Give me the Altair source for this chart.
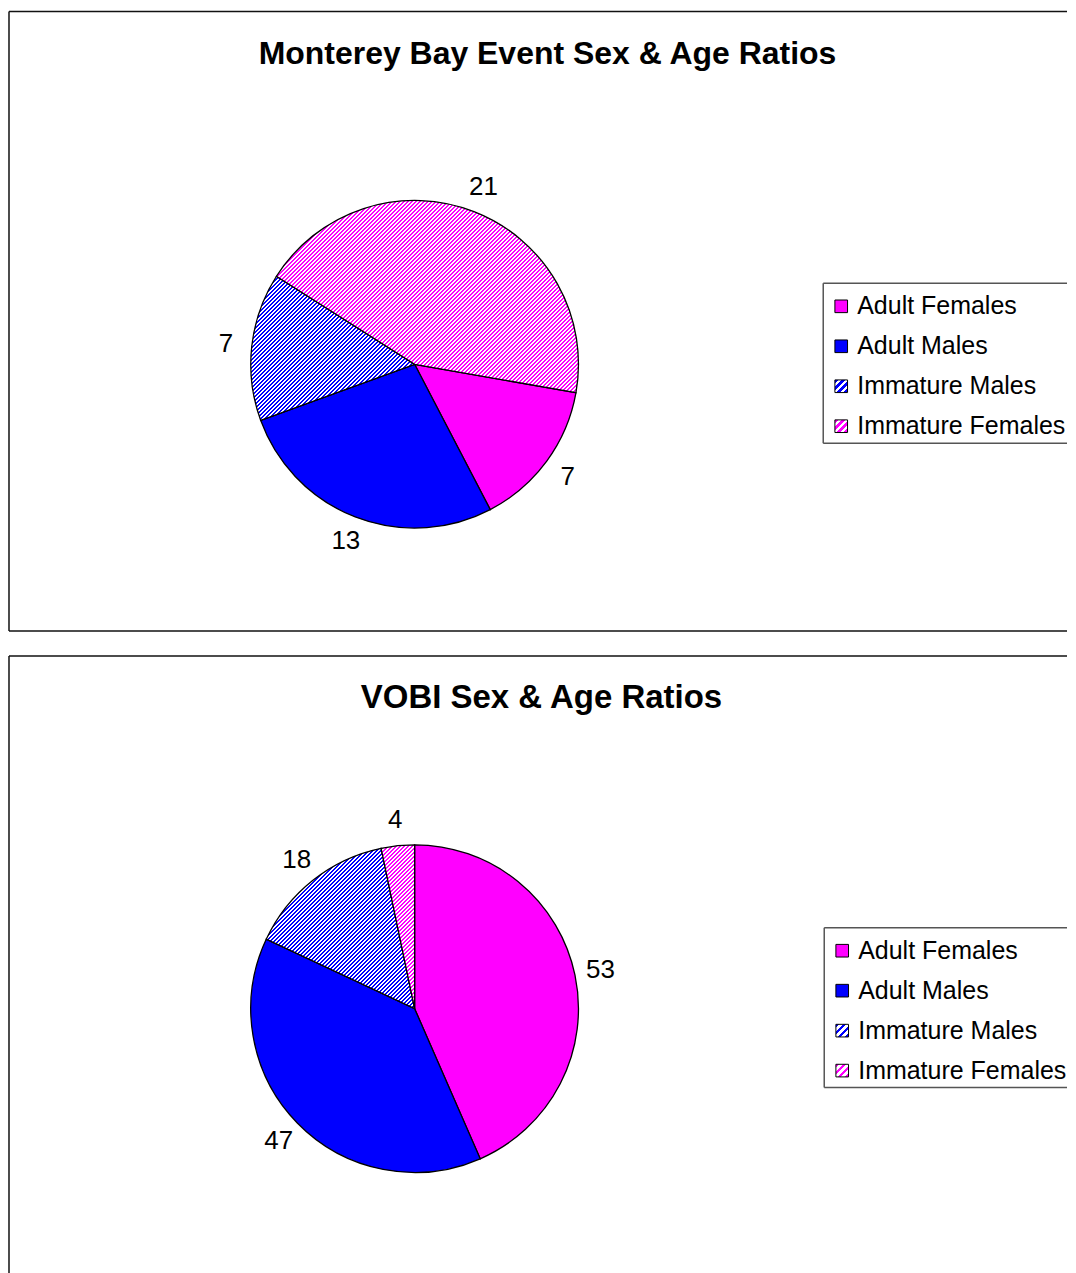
import math
import altair as alt
import pandas as pd

# ---------------- data ----------------
categories = ["Adult Females", "Adult Males", "Immature Males", "Immature Females"]
monterey_values = [7, 13, 7, 21]
vobi_values = [53, 47, 18, 4]
monterey_title = "Monterey Bay Event Sex & Age Ratios"
vobi_title = "VOBI Sex & Age Ratios"
monterey_start_deg = 100
vobi_start_deg = 0

# ---------------- style ----------------
BLUE = "#0000FF"
MAGENTA = "#FF00FF"
FONT = "Liberation Sans"
W = 1059
CX, CY, R = 406, 353, 164
LABEL_R = 190
FRAME = "#111111"


def stripes(color, w, h, xy_period=4.0):
    """45-degree hatch: period measured along x+y (i.e. horizontal pixel period)."""
    n = max(1, math.ceil((w + h) / xy_period))
    length = n * xy_period
    c = length / (w * w + h * h)
    x2, y2 = w * c, h * c
    stops = []
    for i in range(n):
        a, m, b = i / n, (i + 0.5) / n, (i + 1) / n
        stops += [
            alt.GradientStop(offset=a, color=color),
            alt.GradientStop(offset=m, color=color),
            alt.GradientStop(offset=m, color="#FFFFFF"),
            alt.GradientStop(offset=b, color="#FFFFFF"),
        ]
    return alt.LinearGradient(gradient="linear", x1=0, y1=0, x2=x2, y2=y2, stops=stops)


def sector_size(a0, a1, r):
    pts = [(0.0, 0.0), (r * math.sin(a0), -r * math.cos(a0)), (r * math.sin(a1), -r * math.cos(a1))]
    k = math.ceil(a0 / (math.pi / 2))
    while k * math.pi / 2 < a1:
        a = k * math.pi / 2
        pts.append((r * math.sin(a), -r * math.cos(a)))
        k += 1
    xs = [p[0] for p in pts]
    ys = [p[1] for p in pts]
    return max(xs) - min(xs), max(ys) - min(ys)


def fill_for(cat, w, h, period=4.0):
    if cat == "Adult Females":
        return MAGENTA
    if cat == "Adult Males":
        return BLUE
    if cat == "Immature Males":
        return stripes(BLUE, w, h, period)
    return stripes(MAGENTA, w, h, period)


ONE = pd.DataFrame({"k": [0]})


def hrule(x1, x2, y, color=FRAME, sw=1.5):
    return alt.Chart(ONE).mark_rule(color=color, strokeWidth=sw).encode(
        x=alt.value(x1), x2=alt.value(x2), y=alt.value(y))


def vrule(x, y1, y2, color=FRAME, sw=1.5):
    return alt.Chart(ONE).mark_rule(color=color, strokeWidth=sw).encode(
        x=alt.value(x), y=alt.value(y1), y2=alt.value(y2))


def pie_chart(values, title, start_deg, height, legend_x, title_x, title_size, bottom_frame):
    df = pd.DataFrame({"Category": categories, "Value": values, "Order": list(range(len(categories)))})
    a = math.radians(start_deg)
    theta_scale = alt.Scale(domain=[0, 1], range=[a, a + 2 * math.pi])
    base = (
        alt.Chart(df)
        .transform_joinaggregate(Total="sum(Value)")
        .transform_window(Cum="sum(Value)", sort=[alt.SortField("Order")], frame=[None, 0])
        .transform_calculate(
            Start="(datum.Cum - datum.Value) / datum.Total",
            End="datum.Cum / datum.Total",
            Mid="(datum.Cum - datum.Value / 2) / datum.Total",
        )
    )
    layers = []
    # chart frame (right side lies beyond the window in the original)
    layers.append(hrule(0, W, 0))
    layers.append(vrule(0, 0, height))
    if bottom_frame:
        layers.append(hrule(0, W, height))
    # legend frame
    layers.append(hrule(legend_x, W, 272, "#555555", 1.5))
    layers.append(hrule(legend_x, W, 432, "#555555", 1.5))
    layers.append(vrule(legend_x, 272, 432, "#555555", 1.5))

    total = sum(values)
    cum = 0
    for cat, v in zip(categories, values):
        a0 = a + 2 * math.pi * cum / total
        a1 = a + 2 * math.pi * (cum + v) / total
        cum += v
        w, h = sector_size(a0, a1, R)
        layers.append(
            base.transform_filter(alt.datum.Category == cat)
            .mark_arc(radius=R, stroke="black", strokeWidth=1.3, fill=fill_for(cat, w, h, 4.0))
            .encode(
                theta=alt.Theta("Start:Q", scale=theta_scale, stack=False),
                theta2="End:Q",
                x=alt.value(CX),
                y=alt.value(CY),
            )
        )
    layers.append(
        base.mark_text(radius=LABEL_R, font=FONT, fontSize=26, color="black", align="center", baseline="middle")
        .encode(
            theta=alt.Theta("Mid:Q", scale=theta_scale, stack=False),
            text="Value:Q",
            x=alt.value(CX),
            y=alt.value(CY),
        )
    )
    legend_df = pd.DataFrame({"Category": categories})
    legend_scale = alt.Scale(type="point", domain=categories, range=[295, 415], padding=0)
    side = math.sqrt(160)
    for cat in categories:
        layers.append(
            alt.Chart(legend_df)
            .transform_filter(alt.datum.Category == cat)
            .mark_point(shape="square", filled=True, size=160, fill=fill_for(cat, side, side, 7.0),
                        stroke="black", strokeWidth=1, opacity=1)
            .encode(x=alt.value(legend_x + 18), y=alt.Y("Category:N", scale=legend_scale, axis=None))
        )
    layers.append(
        alt.Chart(legend_df)
        .mark_text(align="left", baseline="middle", font=FONT, fontSize=25, color="black")
        .encode(x=alt.value(legend_x + 34), y=alt.Y("Category:N", scale=legend_scale, axis=None), text="Category:N")
    )
    layers.append(
        alt.Chart(pd.DataFrame({"t": [title]}))
        .mark_text(font=FONT, fontSize=title_size, fontWeight="bold", align="center", baseline="middle", color="black")
        .encode(x=alt.value(title_x), y=alt.value(42), text="t:N")
    )
    return alt.layer(*layers).properties(width=W, height=height)


c1 = pie_chart(monterey_values, monterey_title, monterey_start_deg, 620, 815, 539, 32, True)
c2 = pie_chart(vobi_values, vobi_title, vobi_start_deg, 630, 816, 533, 33, False)

chart = (
    alt.vconcat(c1, c2, spacing=23)
    .properties(padding={"left": 0, "top": 2, "right": 0, "bottom": 0}, background="white")
    .configure_view(strokeWidth=0)
)

chart.save("out.html", embed_options={"renderer": "svg", "actions": False})
